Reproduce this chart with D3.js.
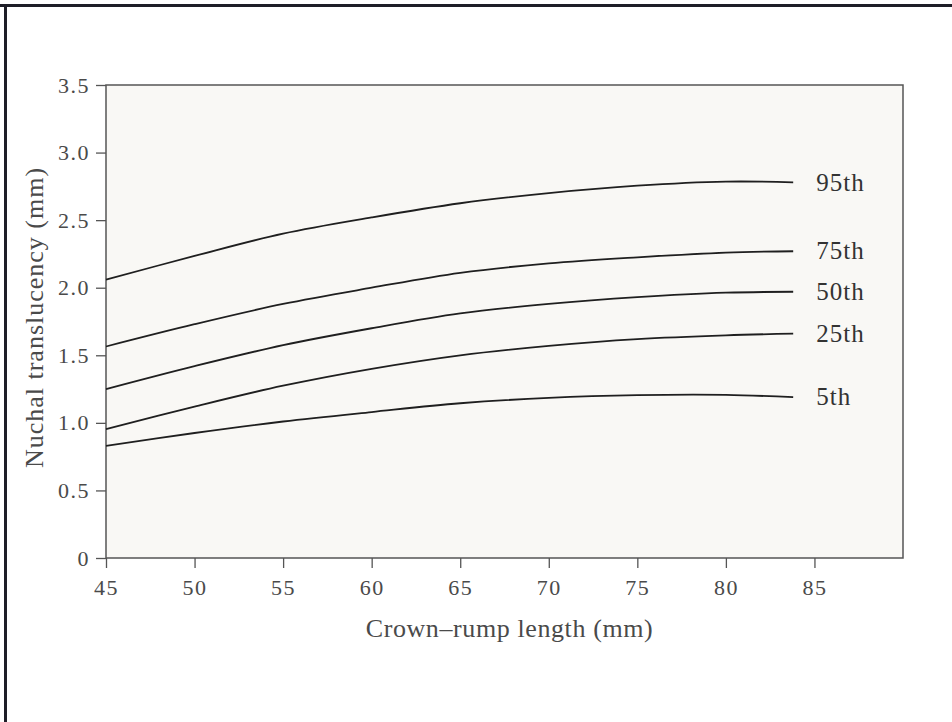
<!DOCTYPE html>
<html>
<head>
<meta charset="utf-8">
<script src="https://cdn.jsdelivr.net/npm/d3@7"></script>
<style>
  html, body { margin: 0; padding: 0; background: #fff; }
  svg { display: block; }
</style>
</head>
<body>
<div id="chart"></div>
<script>
// Crown-rump length (mm) sample points
const crl = [45, 50, 55, 60, 65, 70, 75, 80, 83.8];

// Nuchal translucency percentiles (mm)
const p95 = [2.06, 2.235, 2.40, 2.52, 2.625, 2.70, 2.755, 2.785, 2.78];
const p75 = [1.565, 1.73, 1.88, 2.00, 2.11, 2.18, 2.225, 2.26, 2.27];
const p50 = [1.25, 1.42, 1.575, 1.70, 1.81, 1.88, 1.93, 1.963, 1.97];
const p25 = [0.953, 1.12, 1.275, 1.40, 1.50, 1.57, 1.62, 1.648, 1.66];
const p5  = [0.83, 0.925, 1.01, 1.08, 1.145, 1.185, 1.205, 1.207, 1.19];

const seriesNames = ['95th', '75th', '50th', '25th', '5th'];
const seriesValues = [p95, p75, p50, p25, p5];

const xTicks = [45, 50, 55, 60, 65, 70, 75, 80, 85];
const yTicks = [0, 0.5, 1.0, 1.5, 2.0, 2.5, 3.0, 3.5];

const width = 952, height = 722;
const margin = { top: 85, right: 49, bottom: 164, left: 106 };
const plotW = width - margin.left - margin.right;
const plotH = height - margin.top - margin.bottom;

const serif = '"Liberation Serif", "DejaVu Serif", serif';
const textColor = '#4a4a4a';
const axisColor = '#555';

const svg = d3.select('#chart')
    .append('svg')
    .attr('width', width)
    .attr('height', height);

// Outer frame (top and left edges only, as in the scan)
svg.append('line')
    .attr('x1', 0).attr('x2', width)
    .attr('y1', 5.5).attr('y2', 5.5)
    .attr('stroke', '#1e1e28').attr('stroke-width', 3);
svg.append('line')
    .attr('x1', 5.5).attr('x2', 5.5)
    .attr('y1', 4).attr('y2', height)
    .attr('stroke', '#1e1e28').attr('stroke-width', 3);

const x = d3.scaleLinear().domain([45, 90]).range([0, plotW]);
const y = d3.scaleLinear().domain([0, 3.5]).range([plotH, 0]);

const g = svg.append('g')
    .attr('transform', `translate(${margin.left},${margin.top})`);

// Plot area background + box
g.append('rect')
    .attr('x', 0).attr('y', 0)
    .attr('width', plotW).attr('height', plotH)
    .attr('fill', '#f9f8f5')
    .attr('stroke', axisColor)
    .attr('stroke-width', 1.5);

// Y axis
const yAxis = d3.axisLeft(y)
    .tickValues(yTicks)
    .tickSize(10)
    .tickPadding(6)
    .tickFormat(d => d === 0 ? '0' : d3.format('.1f')(d));

const yAxisG = g.append('g').call(yAxis).attr('font-family', null);
yAxisG.select('.domain').remove();
yAxisG.selectAll('line').attr('stroke', axisColor).attr('stroke-width', 1.3);
yAxisG.selectAll('text')
    .attr('fill', textColor)
    .style('font-family', serif)
    .style('font-size', '22px')
    .style('letter-spacing', '1.5px');

// X axis
const xAxis = d3.axisBottom(x)
    .tickValues(xTicks)
    .tickSize(10)
    .tickPadding(11)
    .tickFormat(d3.format('d'));

const xAxisG = g.append('g')
    .attr('transform', `translate(0,${plotH})`)
    .call(xAxis)
    .attr('font-family', null);
xAxisG.select('.domain').remove();
xAxisG.selectAll('line').attr('stroke', axisColor).attr('stroke-width', 1.3);
xAxisG.selectAll('text')
    .attr('fill', textColor)
    .style('font-family', serif)
    .style('font-size', '22px')
    .style('letter-spacing', '1.5px');

// Axis titles
g.append('text')
    .attr('x', plotW / 2 + 5)
    .attr('y', plotH + 79)
    .attr('text-anchor', 'middle')
    .attr('fill', textColor)
    .style('font-family', serif)
    .style('font-size', '26px')
    .style('letter-spacing', '0.6px')
    .text('Crown–rump length (mm)');

g.append('text')
    .attr('transform', `translate(${43 - margin.left},${plotH / 2 - 4}) rotate(-90)`)
    .attr('text-anchor', 'middle')
    .attr('fill', textColor)
    .style('font-family', serif)
    .style('font-size', '26px')
    .style('letter-spacing', '1px')
    .text('Nuchal translucency (mm)');

// Percentile curves
const line = d3.line()
    .x((d, i) => x(crl[i]))
    .y(d => y(d))
    .curve(d3.curveCatmullRom.alpha(0.5));

const curves = g.selectAll('g.curve')
    .data(seriesValues)
    .join('g')
    .attr('class', 'curve');

curves.append('path')
    .attr('d', d => line(d))
    .attr('fill', 'none')
    .attr('stroke', '#1f1f1f')
    .attr('stroke-width', 1.8);

// End labels
curves.append('text')
    .attr('x', x(crl[crl.length - 1]) + 23)
    .attr('y', d => y(d[d.length - 1]))
    .attr('dy', '0.33em')
    .attr('fill', '#333')
    .style('font-family', serif)
    .style('font-size', '25px')
    .style('letter-spacing', '1px')
    .text((d, i) => seriesNames[i]);
</script>
</body>
</html>
